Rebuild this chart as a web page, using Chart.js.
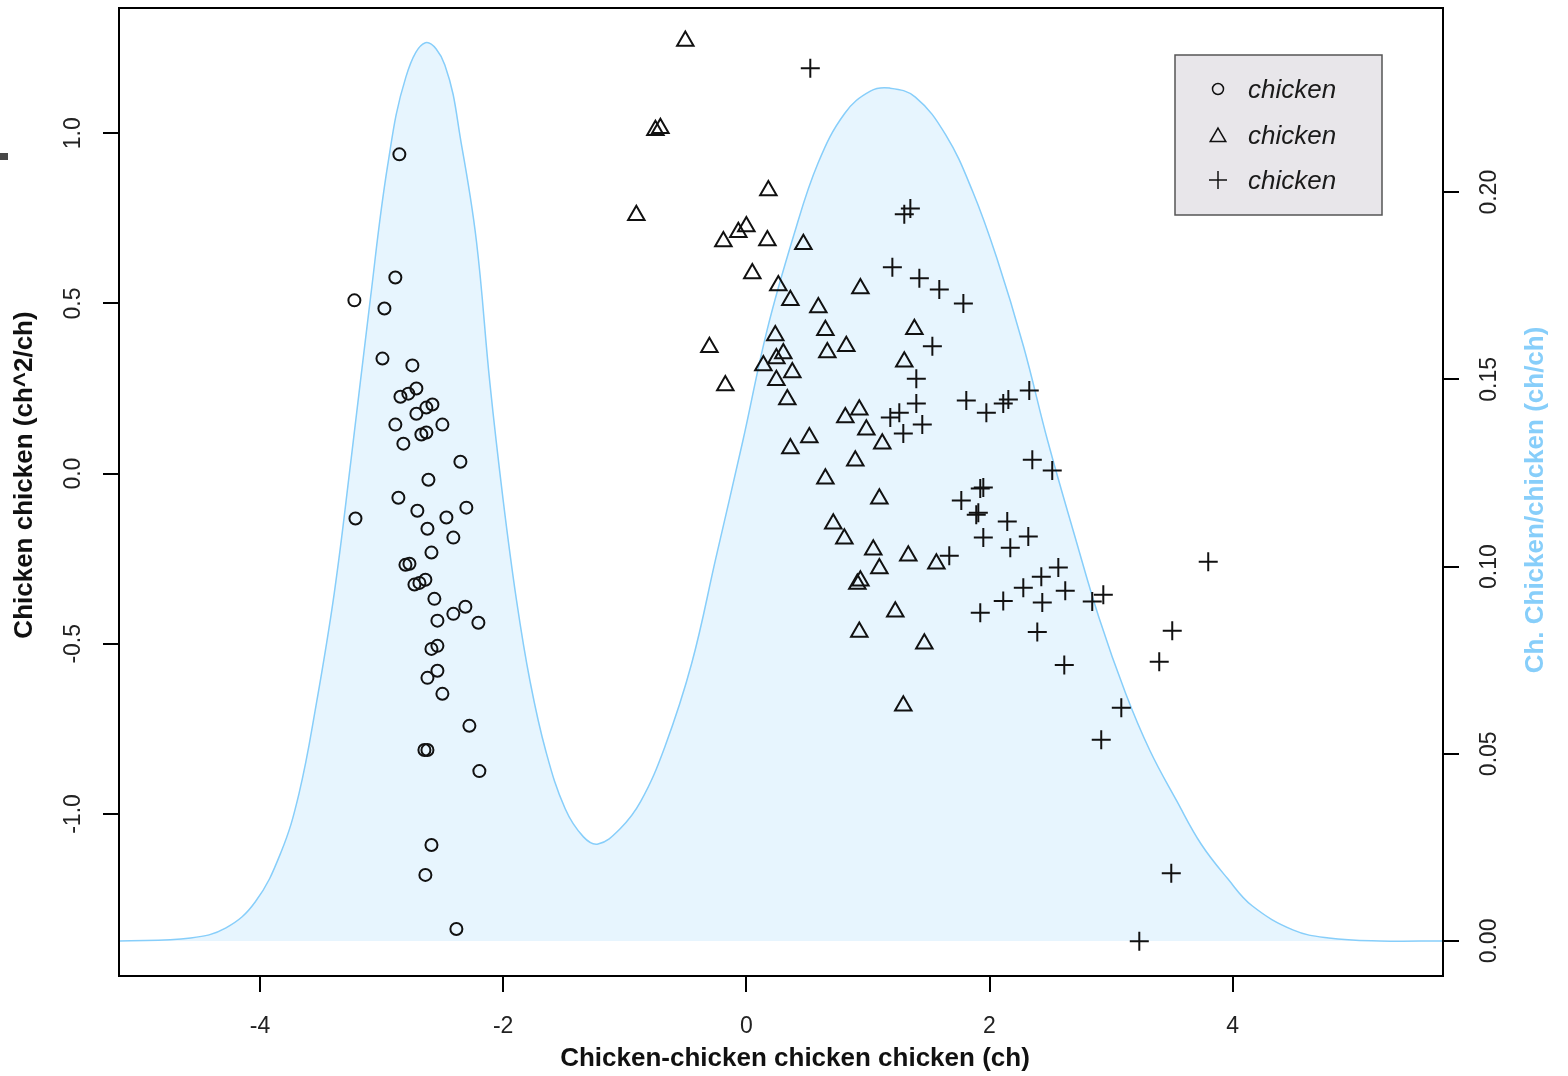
<!DOCTYPE html>
<html>
<head>
<meta charset="utf-8">
<script src="https://cdn.jsdelivr.net/npm/chart.js@4.4.1/dist/chart.umd.min.js"></script>
<style>
  html, body { margin: 0; padding: 0; background: #fff; }
  #wrap { position: relative; width: 1568px; height: 1076px; }
  #chart { display: block; }
  #mark { position: absolute; left: 0; top: 153px; width: 8px; height: 7px; background: #474747; }
</style>
</head>
<body>
<div id="wrap">
  <canvas id="chart" width="1568" height="1076"></canvas>
  <div id="mark"></div>
</div>
<script>
// Valeurs
const circleX = [-2.854, -2.887, -3.224, -2.977, -2.993, -2.747, -2.714, -2.845, -2.780, -2.632, -2.582, -2.714, -2.887, -2.500, -2.673, -2.632, -2.821, -2.352, -2.615, -2.862, -2.706, -2.303, -2.467, -3.215, -2.623, -2.410, -2.590, -2.804, -2.771, -2.730, -2.689, -2.640, -2.566, -2.311, -2.410, -2.541, -2.204, -2.590, -2.541, -2.541, -2.623, -2.500, -2.278, -2.648, -2.623, -2.196, -2.590, -2.640, -2.385];
const circleY = [0.938, 0.576, 0.509, 0.485, 0.338, 0.318, 0.250, 0.226, 0.235, 0.194, 0.203, 0.176, 0.144, 0.144, 0.115, 0.121, 0.088, 0.035, -0.018, -0.071, -0.109, -0.100, -0.129, -0.132, -0.162, -0.188, -0.232, -0.268, -0.265, -0.326, -0.321, -0.312, -0.368, -0.391, -0.412, -0.432, -0.438, -0.515, -0.506, -0.579, -0.600, -0.647, -0.741, -0.812, -0.812, -0.874, -1.091, -1.179, -1.338];

const triX = [-0.502, -0.748, -0.707, -0.905, 0.181, -0.189, -0.066, 0.000, 0.173, 0.469, 0.049, 0.263, 0.362, 0.592, 0.938, -0.304, 0.238, 0.650, 1.382, 0.304, 0.247, 0.140, 0.666, 0.822, 0.378, 0.247, -0.173, 1.299, 0.337, 0.814, 0.929, 0.987, 1.118, 0.518, 0.362, 0.896, 0.650, 1.094, 0.715, 0.806, 1.044, 1.094, 1.332, 1.563, 0.913, 0.938, 1.225, 0.929, 1.464, 1.291];
const triY = [1.271, 1.009, 1.015, 0.759, 0.832, 0.682, 0.709, 0.726, 0.685, 0.674, 0.588, 0.553, 0.509, 0.488, 0.544, 0.371, 0.406, 0.421, 0.424, 0.353, 0.338, 0.318, 0.356, 0.374, 0.297, 0.274, 0.259, 0.329, 0.218, 0.165, 0.188, 0.129, 0.088, 0.106, 0.074, 0.038, -0.015, -0.074, -0.147, -0.191, -0.224, -0.279, -0.241, -0.265, -0.324, -0.315, -0.406, -0.465, -0.500, -0.682];

const crossX = [0.526, 1.349, 1.299, 1.201, 1.423, 1.587, 1.785, 1.530, 1.398, 1.398, 1.258, 1.184, 1.447, 1.291, 1.809, 1.974, 2.113, 2.155, 2.327, 2.352, 2.516, 1.924, 1.949, 1.768, 1.908, 1.891, 2.146, 2.319, 1.949, 2.171, 1.669, 2.566, 2.426, 2.278, 2.623, 2.434, 2.936, 2.845, 2.113, 1.924, 2.393, 2.615, 3.084, 2.919, 3.799, 3.503, 3.396, 3.495, 3.232];
const crossY = [1.191, 0.779, 0.762, 0.606, 0.574, 0.541, 0.500, 0.374, 0.279, 0.206, 0.179, 0.165, 0.144, 0.118, 0.215, 0.179, 0.206, 0.218, 0.244, 0.041, 0.009, -0.044, -0.041, -0.079, -0.115, -0.121, -0.141, -0.185, -0.188, -0.218, -0.241, -0.276, -0.303, -0.335, -0.344, -0.379, -0.356, -0.376, -0.374, -0.409, -0.465, -0.562, -0.688, -0.782, -0.259, -0.462, -0.553, -1.174, -1.374];

// Courbe de densité (axe de droite)
const densX = [-5.16, -4.57, -4.28, -4.04, -3.83, -3.68, -3.54, -3.39, -3.25, -3.10, -2.95, -2.80, -2.64, -2.48, -2.34, -2.22, -2.11, -2.00, -1.89, -1.78, -1.65, -1.49, -1.34, -1.22, -1.04, -0.87, -0.67, -0.45, -0.25, -0.03, 0.17, 0.39, 0.59, 0.81, 1.02, 1.18, 1.39, 1.64, 1.86, 2.06, 2.28, 2.48, 2.70, 2.90, 3.12, 3.32, 3.54, 3.74, 3.96, 4.16, 4.50, 4.79, 5.21, 5.73];
const densY = [0, 0.0008, 0.0035, 0.0104, 0.0235, 0.0393, 0.0628, 0.0928, 0.1289, 0.1695, 0.2072, 0.2308, 0.2399, 0.2340, 0.2121, 0.1869, 0.1492, 0.1177, 0.0909, 0.0695, 0.0508, 0.0353, 0.0278, 0.0259, 0.0299, 0.0372, 0.0519, 0.0741, 0.1024, 0.1334, 0.1631, 0.1885, 0.2078, 0.2211, 0.2270, 0.2278, 0.2254, 0.2153, 0.2003, 0.1824, 0.1588, 0.1334, 0.1083, 0.0864, 0.0661, 0.0508, 0.0374, 0.0259, 0.0166, 0.0094, 0.0029, 0.0008, 0, 0];

const xTicks = [-4, -2, 0, 2, 4];
const yTicks = [-1.0, -0.5, 0.0, 0.5, 1.0];
const y2Ticks = [0, 0.05, 0.10, 0.15, 0.20];
const legendLabels = ["chicken", "chicken", "chicken"];
const xTitle = "Chicken-chicken chicken chicken (ch)";
const yTitle = "Chicken chicken (ch^2/ch)";
const y2Title = "Ch. Chicken/chicken (ch/ch)";

const FONT = "'Liberation Sans', Arial, Helvetica, sans-serif";
const INK = "#111";
const SKY = "#87CEFA";

const toPoints = (xs, ys) => xs.map((x, i) => ({ x: x, y: ys[i] }));

const markerSets = [
    { style: "circle", radius: 6 },
    { style: "triangle", radius: 9.5 },
    { style: "cross", radius: 9.5 },
];

function scatterSet(xs, ys, marker, label) {
    return {
        type: "scatter",
        label: label,
        data: toPoints(xs, ys),
        yAxisID: "y",
        pointStyle: marker.style,
        pointRadius: marker.radius,
        pointBorderWidth: 2,
        borderColor: INK,
        backgroundColor: "rgba(0,0,0,0)",
        order: 0,
    };
}

function axisTicks(values) {
    return (scale) => { scale.ticks = values.map((v) => ({ value: v })); };
}

// Taille fixe des axes, sans marge automatique
function fixSize(prop, size) {
    return (scale) => {
        scale[prop] = size;
        scale.paddingTop = 0;
        scale.paddingBottom = 0;
        scale.paddingLeft = 0;
        scale.paddingRight = 0;
    };
}

const tickGrid = { drawOnChartArea: false, drawTicks: true, tickLength: 16, color: "#000", lineWidth: 2 };
const tickFont = { family: FONT, size: 23 };

// Cadre autour de la zone de tracé
const framePlugin = {
    id: "frame",
    afterDatasetsDraw(chart) {
        const { ctx, chartArea: a } = chart;
        ctx.save();
        ctx.strokeStyle = "#000";
        ctx.lineWidth = 2;
        ctx.strokeRect(a.left, a.top, a.right - a.left, a.bottom - a.top);
        ctx.restore();
    },
};

// Titres des axes (le titre de droite se lit de bas en haut)
const titlePlugin = {
    id: "axisTitles",
    afterDraw(chart) {
        const ctx = chart.ctx;
        ctx.save();
        ctx.font = "bold 26px " + FONT;
        ctx.textAlign = "center";
        ctx.textBaseline = "middle";
        ctx.fillStyle = INK;
        ctx.fillText(xTitle, 795, 1059);

        ctx.save();
        ctx.translate(25, 475);
        ctx.rotate(-Math.PI / 2);
        ctx.fillText(yTitle, 0, 0);
        ctx.restore();

        ctx.save();
        ctx.translate(1536, 500);
        ctx.rotate(-Math.PI / 2);
        ctx.fillStyle = SKY;
        ctx.fillText(y2Title, 0, 0);
        ctx.restore();
        ctx.restore();
    },
};

// Légende encadrée dans le coin supérieur droit
const legendPlugin = {
    id: "boxLegend",
    afterDraw(chart) {
        const ctx = chart.ctx;
        ctx.save();
        ctx.fillStyle = "#e8e6ea";
        ctx.strokeStyle = "#555";
        ctx.lineWidth = 1.5;
        ctx.fillRect(1175, 55, 207, 160);
        ctx.strokeRect(1175, 55, 207, 160);

        const rows = [89, 135, 180];
        legendLabels.forEach((label, i) => {
            ctx.strokeStyle = INK;
            ctx.fillStyle = "rgba(0,0,0,0)";
            Chart.helpers.drawPoint(ctx, {
                pointStyle: markerSets[i].style,
                radius: markerSets[i].style === "circle" ? 5.5 : 9,
                rotation: 0,
                borderWidth: 2,
            }, 1218, rows[i] + (markerSets[i].style === "triangle" ? 2 : 0));
            ctx.fillStyle = "#1a1a1a";
            ctx.font = "italic 26px " + FONT;
            ctx.textAlign = "left";
            ctx.textBaseline = "middle";
            ctx.fillText(label, 1248, rows[i] + 2);
        });
        ctx.restore();
    },
};

const ctx = document.getElementById("chart").getContext("2d");
new Chart(ctx, {
    type: "scatter",
    data: {
        datasets: [
            {
                type: "line",
                label: "density",
                data: toPoints(densX, densY),
                yAxisID: "y2",
                borderColor: SKY,
                borderWidth: 1.5,
                backgroundColor: "rgba(135, 206, 250, 0.2)",
                fill: "origin",
                pointRadius: 0,
                tension: 0.4,
                order: 5,
            },
            scatterSet(circleX, circleY, markerSets[0], legendLabels[0]),
            scatterSet(triX, triY, markerSets[1], legendLabels[1]),
            scatterSet(crossX, crossY, markerSets[2], legendLabels[2]),
        ],
    },
    options: {
        responsive: false,
        animation: false,
        devicePixelRatio: 1,
        events: [],
        layout: { autoPadding: false, padding: { top: 8, left: 0, right: 0, bottom: 0 } },
        plugins: {
            legend: { display: false },
            tooltip: { enabled: false },
        },
        scales: {
            x: {
                type: "linear",
                position: "bottom",
                min: -5.16,
                max: 5.73,
                afterBuildTicks: axisTicks(xTicks),
                afterFit: fixSize("height", 100),
                border: { display: false },
                grid: tickGrid,
                ticks: { font: tickFont, color: "#222", padding: 21, maxRotation: 0, callback: (v) => String(v) },
            },
            y: {
                type: "linear",
                position: "left",
                min: -1.476,
                max: 1.368,
                afterBuildTicks: axisTicks(yTicks),
                afterFit: fixSize("width", 119),
                border: { display: false },
                grid: tickGrid,
                ticks: { font: tickFont, color: "#222", padding: 10, minRotation: 90, maxRotation: 90, crossAlign: "center", callback: (v) => v.toFixed(1) },
            },
            y2: {
                type: "linear",
                position: "right",
                min: -0.00936,
                max: 0.2492,
                afterBuildTicks: axisTicks(y2Ticks),
                afterFit: fixSize("width", 125),
                border: { display: false },
                grid: tickGrid,
                ticks: { font: tickFont, color: "#222", padding: 8, minRotation: 90, maxRotation: 90, crossAlign: "center", callback: (v) => v.toFixed(2) },
            },
        },
    },
    plugins: [framePlugin, titlePlugin, legendPlugin],
});
</script>
</body>
</html>
